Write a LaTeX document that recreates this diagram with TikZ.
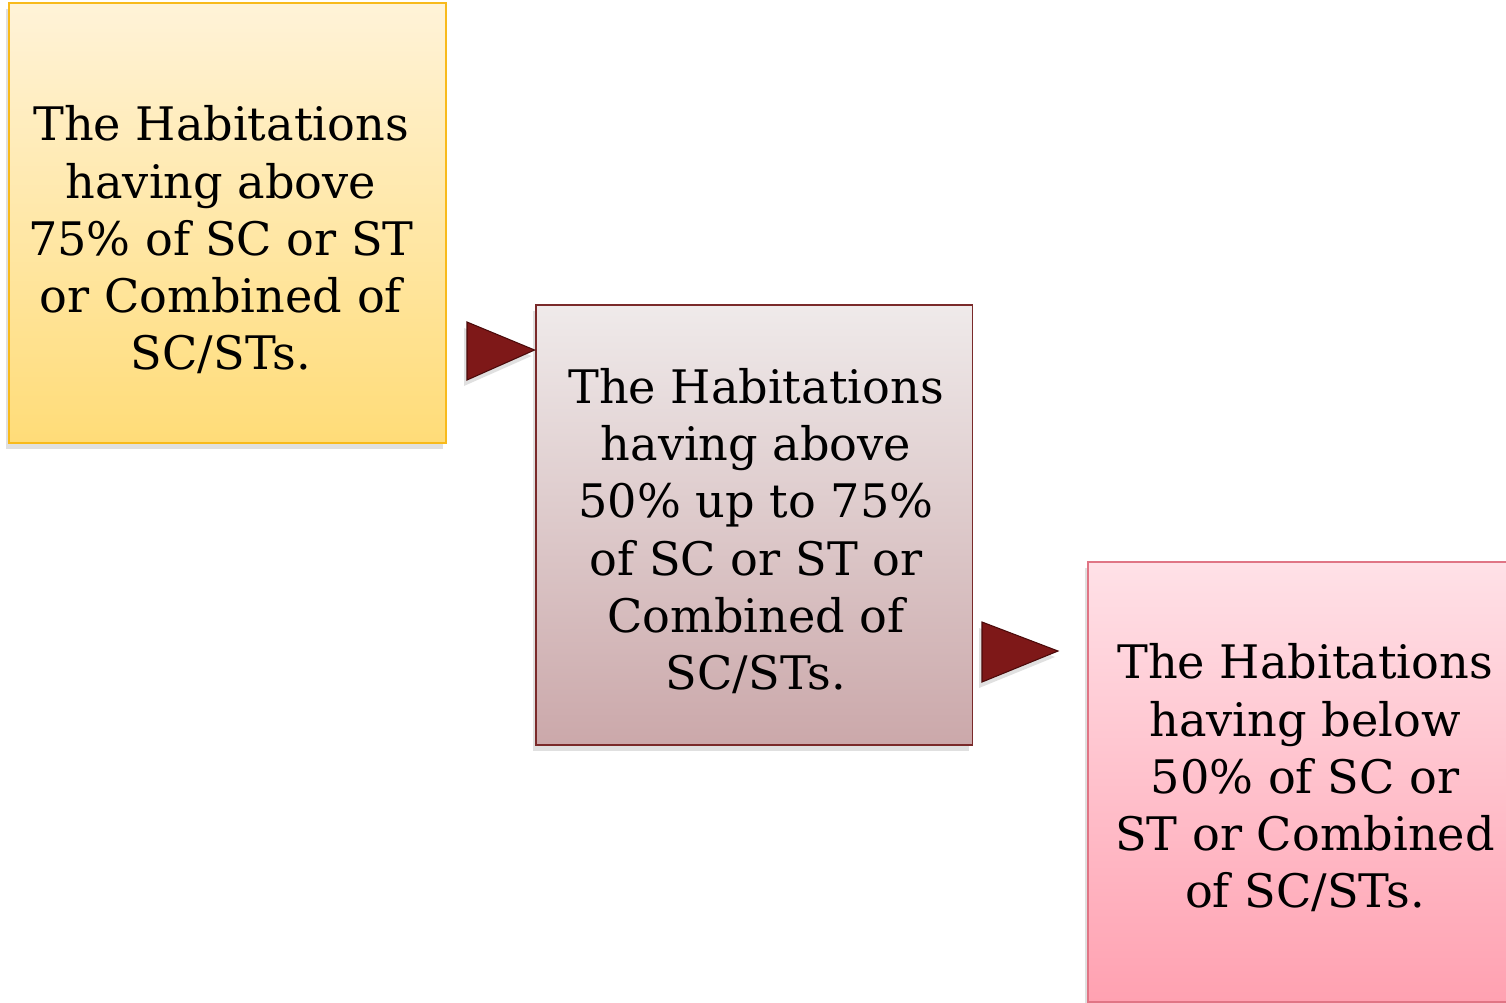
\documentclass[tikz,border=0pt]{standalone}
\usepackage{fontspec}
\setmainfont{DejaVu Serif}
\usetikzlibrary{shadows}
\begin{document}
\begin{tikzpicture}[x=0.02cm,y=-0.02cm,
  boxshadow/.style={general shadow={fill=black!30, opacity=0.4, shadow xshift=-0.06cm, shadow yshift=-0.12cm}},
  box/.style={draw, line width=1.1pt, minimum width=8.74cm, minimum height=8.8cm, inner sep=0pt, boxshadow},
  lbl/.style={align=center, font=\fontsize{26.3}{32.6}\selectfont, inner sep=0pt},
  arr/.style={fill=arrred, draw=arrdark, line width=0.6pt}]
\definecolor{yellowbd}{HTML}{F8BA1C}
\definecolor{yellowtop}{HTML}{FFF3D8}
\definecolor{yellowbot}{HTML}{FFDC78}
\definecolor{greybd}{HTML}{7A2A2A}
\definecolor{greytop}{HTML}{EFEAEA}
\definecolor{greybot}{HTML}{CBA8AA}
\definecolor{pinkbd}{HTML}{E07585}
\definecolor{pinktop}{HTML}{FFE1E7}
\definecolor{pinkbot}{HTML}{FFA1B1}
\definecolor{arrred}{HTML}{7E1818}
\definecolor{arrdark}{HTML}{4A0A0A}
\useasboundingbox (0,0) rectangle (1506,1002);
\clip (0,0) rectangle (1506,1002);
\node[box, draw=yellowbd, top color=yellowtop, bottom color=yellowbot] (b1) at (227.5,223) {};
\node[box, draw=greybd, top color=greytop, bottom color=greybot] (b2) at (754,525) {};
\node[box, draw=pinkbd, top color=pinktop, bottom color=pinkbot, anchor=north west] (b3) at (1087,561) {};
\node[lbl] (t1) at (221,240) {The Habitations\\having above\\75\% of SC or ST\\or Combined of\\SC/STs.};
\node[lbl] (t2) at (756,531) {The Habitations\\having above\\50\% up to 75\%\\of SC or ST or\\Combined of\\SC/STs.};
\node[lbl] (t3) at (1305,778) {The Habitations\\having below\\50\% of SC or\\ST or Combined\\of SC/STs.};
\coordinate (a1tip) at (b2.west |- 0,350);
\coordinate (a2tip) at (1058,651);
\fill[arr, boxshadow] (467,322) -- (a1tip) -- (467,380) -- cycle;
\fill[arr, boxshadow] (982,622) -- (a2tip) -- (982,682) -- cycle;
\end{tikzpicture}
\end{document}
